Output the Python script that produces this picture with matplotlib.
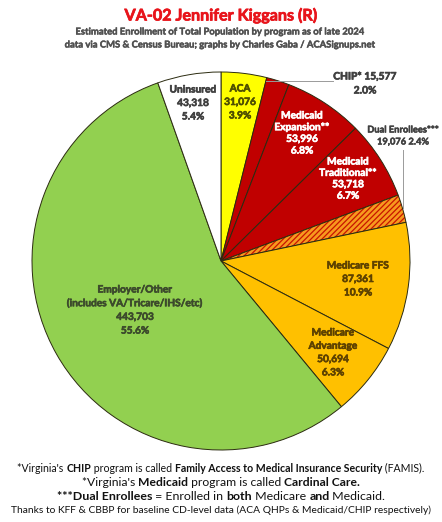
import matplotlib

matplotlib.use("Agg")

import matplotlib.pyplot as plt
import matplotlib.patheffects as pe
from matplotlib.patches import Wedge

W, H = 442, 522
FONT = "Lato"

labels = [
    "ACA",
    "CHIP*",
    "Medicaid\nExpansion**",
    "Medicaid\nTraditional**",
    "Dual Enrollees***",
    "Medicare FFS",
    "Medicare\nAdvantage",
    "Employer/Other\n(includes VA/Tricare/IHS/etc)",
    "Uninsured",
]
values = [31076, 15577, 53996, 53718, 19076, 87361, 50694, 443703, 43318]
colors = ["#FFFF00", "#C00000", "#C00000", "#C00000", "#F79A1E",
          "#FFC000", "#FFC000", "#92D050", "#FFFFFF"]
text_colors = ["#4f4f00", "#404040", "#FFFFFF", "#FFFFFF", "#404040",
               "#5e4200", "#5e4200", "#3c4a2c", "#404040"]

# label layout in pixels: x, y of first line, line step
label_pos = [
    (240, 89, 13.5),
    None,
    (302, 116, 11.7),
    (348, 162, 11.4),
    None,
    (358, 266, 13.5),
    (333, 333, 13.3),
    (135, 290, 13.7),
    (193, 90, 13.5),
]

footer = [
    ([("*Virginia's ", False), ("CHIP", True), (" program is called ", False),
      ("Family Access to Medical Insurance Security", True), (" (FAMIS).", False)], 7.6, 468),
    ([("*Virginia's ", False), ("Medicaid", True), (" program is called ", False),
      ("Cardinal Care.", True)], 8.7, 482),
    ([("***Dual Enrollees", True), (" = Enrolled in ", False), ("both", True),
      (" Medicare ", False), ("and", True), (" Medicaid.", False)], 8.9, 496),
    ([("Thanks to KFF & CBBP for baseline CD-level data (ACA QHPs & Medicaid/CHIP respectively)",
       False)], 7.4, 510),
]

CX, CY, R = 221, 261, 189


def py(y):
    return H - y


def heavy(color, lw=0.45):
    return [pe.withStroke(linewidth=lw, foreground=color)]


plt.rcParams["hatch.linewidth"] = 0.9
fig = plt.figure(figsize=(W / 100, H / 100), dpi=100)
ax = fig.add_axes([0, 0, 1, 1])
ax.set_xlim(0, W)
ax.set_ylim(0, H)
ax.axis("off")

total = sum(values)
angle = 90.0
for i, v in enumerate(values):
    span = 360.0 * v / total
    t1, t2 = angle - span, angle
    ax.add_patch(Wedge((CX, py(CY)), R, t1, t2, facecolor=colors[i], edgecolor="none", lw=0))
    if labels[i].startswith("Dual"):
        ax.add_patch(Wedge((CX, py(CY)), R, t1, t2, facecolor="none",
                           edgecolor="#C81400", hatch="//////", lw=0))
    ax.add_patch(Wedge((CX, py(CY)), R, t1, t2, facecolor="none",
                       edgecolor="#2b2b10", lw=0.7))
    angle = t1

    pct = 100.0 * v / total
    if label_pos[i] is None:
        continue
    x, y0, dy = label_pos[i]
    lines = labels[i].split("\n") + [f"{v:,}", f"{pct:.1f}%"]
    for k, line in enumerate(lines):
        ax.text(x, py(y0 + k * dy), line, ha="center", va="center", fontsize=7.3,
                fontweight="bold", color=text_colors[i], family=FONT,
                path_effects=heavy(text_colors[i]))

# outside labels
chip_pct = 100.0 * values[1] / total
ax.text(365, py(77), f"{labels[1]} {values[1]:,}", ha="center", va="center", fontsize=7.4,
        fontweight="bold", color="#404040", family=FONT, path_effects=heavy("#404040"))
ax.text(365, py(91), f"{chip_pct:.1f}%", ha="center", va="center", fontsize=7.4,
        fontweight="bold", color="#404040", family=FONT, path_effects=heavy("#404040"))
ax.plot([266, 333], [py(81), py(81)], color="#9a9a9a", lw=0.7)

dual_pct = 100.0 * values[4] / total
ax.text(403, py(130), labels[4], ha="center", va="center", fontsize=6.7,
        fontweight="bold", color="#404040", family=FONT, path_effects=heavy("#404040", 0.35))
ax.text(403, py(142), f"{values[4]:,} {dual_pct:.1f}%", ha="center", va="center", fontsize=6.7,
        fontweight="bold", color="#404040", family=FONT, path_effects=heavy("#404040", 0.35))
ax.plot([403, 403], [py(150), py(208)], color="#9a9a9a", lw=0.7)

# titles
ax.text(W / 2, py(16), "VA-02 Jennifer Kiggans (R)", ha="center", va="center",
        fontsize=11.6, fontweight="bold", color="#E8141B", family=FONT,
        path_effects=heavy("#E8141B", 0.5))
ax.text(W / 2, py(32), "Estimated Enrollment of Total Population by program as of late 2024",
        ha="center", va="center", fontsize=6.8, fontweight="bold", color="#505050", family=FONT,
        path_effects=heavy("#505050", 0.3))
ax.text(W / 2, py(45), "data via CMS & Census Bureau; graphs by Charles Gaba / ACASignups.net",
        ha="center", va="center", fontsize=6.8, fontweight="bold", color="#505050", family=FONT,
        path_effects=heavy("#505050", 0.3))

# footer with mixed bold runs
renderer = fig.canvas.get_renderer()
for pieces, size, y in footer:
    items = []
    for txt, bold in pieces:
        t = ax.text(0, py(y), txt, ha="left", va="center", fontsize=size,
                    fontweight="bold" if bold else "normal", color="#111111", family=FONT)
        items.append(t)
    widths = [t.get_window_extent(renderer).width for t in items]
    x = W / 2 - sum(widths) / 2
    for t, w in zip(items, widths):
        t.set_x(x)
        x += w

fig.savefig("out.png", dpi=100)
